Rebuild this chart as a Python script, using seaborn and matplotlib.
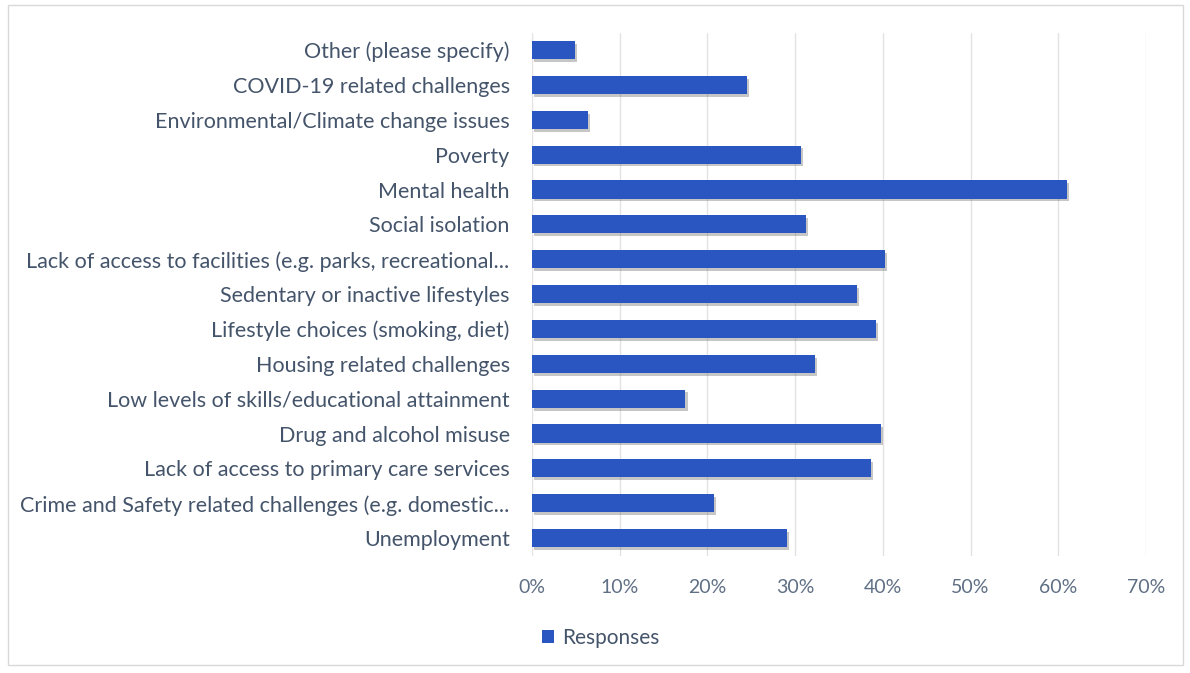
import matplotlib
matplotlib.use("Agg")
import matplotlib.pyplot as plt
import matplotlib.patheffects as pe
from matplotlib.patches import Rectangle, Patch
from matplotlib.ticker import PercentFormatter
import seaborn as sns
import pandas as pd

categories = [
    "Other (please specify)",
    "COVID-19 related challenges",
    "Environmental/Climate change issues",
    "Poverty",
    "Mental health",
    "Social isolation",
    "Lack of access to facilities (e.g. parks, recreational...",
    "Sedentary or inactive lifestyles",
    "Lifestyle choices (smoking, diet)",
    "Housing related challenges",
    "Low levels of skills/educational attainment",
    "Drug and alcohol misuse",
    "Lack of access to primary care services",
    "Crime and Safety related challenges (e.g. domestic...",
    "Unemployment",
]
responses = [0.049, 0.245, 0.064, 0.307, 0.610, 0.312, 0.402, 0.371,
             0.392, 0.323, 0.175, 0.398, 0.387, 0.207, 0.291]
series_name = "Responses"
xticks = [0, 0.1, 0.2, 0.3, 0.4, 0.5, 0.6, 0.7]

df = pd.DataFrame({"Category": categories, series_name: responses})

sns.set_theme(style="white")
plt.rcParams["font.family"] = ["Lato", "DejaVu Sans"]

bar_color = "#2A56C2"
label_color = "#44546A"

fig = plt.figure(figsize=(11.9, 6.73), dpi=100)
ax = fig.add_axes([0.447, 0.1745, 0.516, 0.777])

sns.barplot(data=df, x=series_name, y="Category", order=categories,
            color=bar_color, width=0.52, saturation=1, ax=ax, zorder=3,
            linewidth=0)
for p in ax.patches:
    p.set_path_effects([pe.SimplePatchShadow(offset=(1.5, -2), alpha=0.3, shadow_rgbFace="#444444"), pe.Normal()])

ax.set_xlim(0, 0.70)
ax.set_xticks(xticks)
ax.xaxis.set_major_formatter(PercentFormatter(1.0, decimals=0))
ax.grid(axis="x", color="#E3E3E3", linewidth=1, zorder=0)
ax.set_axisbelow(True)
ax.set_xlabel("")
ax.set_ylabel("")
for s in ax.spines.values():
    s.set_visible(False)
ax.tick_params(axis="y", length=0, pad=16, labelsize=15.5, labelcolor=label_color)
ax.tick_params(axis="x", length=0, pad=17, labelsize=14, labelcolor="#5F6F84")

handles = [Patch(facecolor=bar_color, edgecolor="none", label=series_name)]
fig.legend(handles=handles, loc="center", bbox_to_anchor=(0.505, 0.052),
           frameon=False, fontsize=15, handlelength=0.55, handleheight=0.6,
           handletextpad=0.4, labelcolor=label_color)

fig.patches.append(Rectangle((0.007, 0.012), 0.987, 0.98, transform=fig.transFigure,
                             fill=False, edgecolor="#D9D9D9", linewidth=1))

fig.savefig("out.png", dpi=100)
